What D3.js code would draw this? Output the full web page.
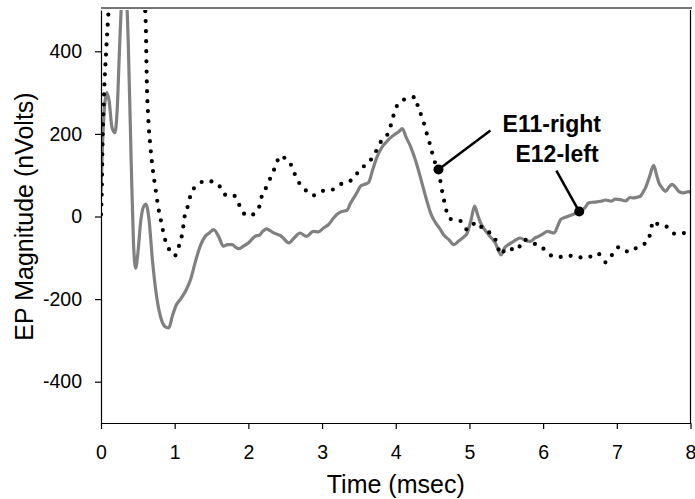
<!DOCTYPE html>
<html>
<head>
<meta charset="utf-8">
<script src="https://cdn.jsdelivr.net/npm/d3@7"></script>
<style>
  body { margin: 0; background: #fff; }
  svg { display: block; font-family: "Liberation Sans", Arial, sans-serif; }
</style>
</head>
<body>
<svg width="695" height="499"></svg>
<script>
// E12-left (solid grey) : time in msec, magnitude in nVolts
const leftTime = [0.00, 0.02, 0.05, 0.08, 0.11, 0.15, 0.19, 0.22, 0.25, 0.28, 0.31, 0.34, 0.37, 0.41, 0.44, 0.47, 0.50, 0.54, 0.58, 0.61,
  0.65, 0.70, 0.76, 0.82, 0.88, 0.92, 0.97, 1.02, 1.08, 1.15, 1.22, 1.28, 1.35, 1.41, 1.47, 1.53, 1.60, 1.66, 1.72, 1.78,
  1.83, 1.87, 1.93, 2.00, 2.05, 2.09, 2.15, 2.20, 2.25, 2.30, 2.36, 2.45, 2.55, 2.62, 2.70, 2.79, 2.88, 2.95, 3.02, 3.09,
  3.15, 3.20, 3.27, 3.34, 3.38, 3.43, 3.48, 3.52, 3.58, 3.63, 3.69, 3.75, 3.82, 3.88, 3.93, 3.98, 4.04, 4.09, 4.14, 4.20,
  4.27, 4.33, 4.38, 4.43, 4.48, 4.54, 4.60, 4.65, 4.72, 4.79, 4.85, 4.92, 4.97, 5.02, 5.07, 5.11, 5.15, 5.20, 5.26, 5.35,
  5.43, 5.48, 5.53, 5.60, 5.69, 5.76, 5.83, 5.89, 5.94, 6.00, 6.06, 6.15, 6.20, 6.24, 6.30, 6.35, 6.42, 6.50, 6.56, 6.62,
  6.70, 6.78, 6.85, 6.92, 6.98, 7.05, 7.12, 7.18, 7.23, 7.28, 7.32, 7.36, 7.39, 7.45, 7.50, 7.54, 7.57, 7.62, 7.66, 7.71,
  7.75, 7.80, 7.84, 7.91, 7.97, 8.00];
const leftValues = [60, 170, 270, 300, 280, 215, 203, 260, 400, 530, 620, 560, 420, 130, -60, -125, -90, -10, 25, 30,
  -5, -110, -200, -250, -268, -270, -240, -215, -200, -180, -150, -110, -70, -49, -40, -32, -50, -72, -68, -68,
  -75, -78, -72, -64, -55, -48, -45, -35, -30, -35, -41, -48, -64, -52, -40, -48, -36, -37, -28, -19,
  -5, 5, 12, 15, 30, 45, 60, 73, 78, 82, 115, 146, 170, 182, 191, 198, 205, 213, 192, 170,
  135, 98, 65, 33, 5, -15, -30, -44, -56, -68, -60, -50, -40, -10, 25, 5, -15, -30, -44, -64,
  -93, -75, -68, -60, -52, -58, -60, -52, -48, -42, -36, -40, -22, -7, -2, 1, 6, 13, 20, 33,
  35, 37, 40, 37, 42, 41, 38, 46, 45, 47, 49, 60, 70, 100, 124, 100, 82, 68, 61, 72,
  78, 70, 61, 57, 60, 59];

// E11-right (black dotted)
const rightTime = [0.00, 0.01, 0.02, 0.04, 0.07, 0.10, 0.13, 0.20, 0.30, 0.40, 0.50, 0.56, 0.60, 0.61, 0.62, 0.64, 0.67, 0.70, 0.74, 0.78,
  0.81, 0.87, 0.92, 0.96, 1.00, 1.03, 1.06, 1.10, 1.14, 1.19, 1.22, 1.27, 1.32, 1.39, 1.46, 1.53, 1.59, 1.68, 1.73, 1.79,
  1.88, 1.97, 2.03, 2.08, 2.15, 2.18, 2.25, 2.31, 2.37, 2.43, 2.49, 2.55, 2.61, 2.67, 2.77, 2.88, 3.01, 3.14, 3.28, 3.42,
  3.51, 3.63, 3.72, 3.79, 3.88, 3.93, 3.97, 4.02, 4.14, 4.27, 4.30, 4.36, 4.40, 4.44, 4.48, 4.51, 4.58, 4.62, 4.65, 4.68,
  4.74, 4.81, 4.88, 4.97, 5.03, 5.10, 5.19, 5.31, 5.38, 5.42, 5.51, 5.64, 5.74, 5.85, 5.98, 6.09, 6.22, 6.36, 6.49, 6.60,
  6.74, 6.85, 6.94, 7.03, 7.17, 7.28, 7.41, 7.46, 7.49, 7.56, 7.69, 7.79, 7.90, 8.00];
const rightValues = [5, 60, 170, 290, 400, 490, 580, 760, 860, 850, 720, 580, 500, 449, 340, 243, 170, 118, 67, 19,
  -7, -56, -78, -90, -95, -88, -70, -44, 5, 31, 56, 70, 78, 85, 86, 83, 78, 53, 52, 53,
  27, 3, 3, 7, 25, 48, 73, 98, 122, 147, 142, 135, 111, 87, 65, 51, 62, 65, 81, 90,
  114, 130, 154, 179, 196, 219, 245, 269, 285, 289, 266, 239, 215, 188, 166, 141, 114, 70, 44, 19,
  -6, -8, -11, -32, -22, -14, -32, -44, -68, -92, -76, -82, -56, -64, -74, -93, -98, -95, -99, -99,
  -89, -111, -92, -74, -86, -74, -61, -37, -11, -19, -26, -42, -40, -42];

const xTicks = [0, 1, 2, 3, 4, 5, 6, 7, 8];
const yTicks = [-400, -200, 0, 200, 400];

// callouts: dot on the curve, line end, label position (data units)
const calloutNames = ["E11-right", "E12-left"];
const calloutDot = [[4.58, 114], [6.49, 12]];
const calloutEnd = [[5.285, 208], [6.18, 111]];
const calloutText = [[5.45, 204], [5.625, 133]];

var svg = d3.select("svg");
var plotLeft = 101, plotRight = 690.5, plotTop = 10, plotBottom = 423;

var x = d3.scaleLinear().domain([0, 8]).range([plotLeft, plotRight]);
var y = d3.scaleLinear().domain([-500, 500]).range([plotBottom, plotTop]);

var leftSeries = leftTime.map(function (t, i) { return [t, leftValues[i]]; });
var rightSeries = rightTime.map(function (t, i) { return [t, rightValues[i]]; });

svg.append("defs").append("clipPath").attr("id", "plot")
  .append("rect")
  .attr("x", plotLeft).attr("y", plotTop)
  .attr("width", plotRight - plotLeft).attr("height", plotBottom - plotTop);

var line = d3.line()
  .x(function (d) { return x(d[0]); })
  .y(function (d) { return y(d[1]); })
  .curve(d3.curveMonotoneX);

var lines = svg.append("g").attr("clip-path", "url(#plot)");

lines.append("path")
  .datum(leftSeries)
  .attr("fill", "none")
  .attr("stroke", "#808080")
  .attr("stroke-width", 3.2)
  .attr("stroke-linejoin", "round")
  .attr("d", line);

lines.append("path")
  .datum(rightSeries)
  .attr("fill", "none")
  .attr("stroke", "#000")
  .attr("stroke-width", 4.2)
  .attr("stroke-linecap", "round")
  .attr("stroke-dasharray", "0 10")
  .attr("d", line);

// frame
svg.append("line")
  .attr("x1", plotLeft).attr("x2", plotRight + 1.5)
  .attr("y1", 8).attr("y2", 8)
  .attr("stroke", "#444").attr("stroke-width", 1.5);
svg.append("line")
  .attr("x1", plotRight).attr("x2", plotRight)
  .attr("y1", plotTop).attr("y2", plotBottom)
  .attr("stroke", "#000").attr("stroke-width", 1.2);

// plain hyphen for negative labels, as in the original
var plainFormat = function (d) { return String(d); };

var xAxis = svg.append("g")
  .attr("transform", "translate(0," + plotBottom + ")")
  .call(d3.axisBottom(x).tickValues(xTicks).tickFormat(plainFormat)
    .tickSize(6).tickSizeOuter(0).tickPadding(16.5));
var yAxis = svg.append("g")
  .attr("transform", "translate(" + plotLeft + ",0)")
  .call(d3.axisLeft(y).tickValues(yTicks).tickFormat(plainFormat)
    .tickSize(6).tickSizeOuter(0).tickPadding(13));

[xAxis, yAxis].forEach(function (a) {
  a.attr("font-size", 19.5).attr("font-family", "'Liberation Sans', Arial, sans-serif");
  a.selectAll("path, line").attr("stroke", "#000").attr("stroke-width", 1.2);
  a.selectAll("text").attr("fill", "#000");
});

svg.append("text")
  .attr("x", (plotLeft + plotRight) / 2)
  .attr("y", 493)
  .attr("text-anchor", "middle")
  .style("font-size", "25px")
  .text("Time (msec)");

svg.append("text")
  .attr("transform", "translate(33," + (plotTop + plotBottom) / 2 + ") rotate(-90)")
  .attr("text-anchor", "middle")
  .style("font-size", "25px")
  .text("EP Magnitude (nVolts)");

// callouts
calloutNames.forEach(function (name, i) {
  svg.append("line")
    .attr("x1", x(calloutDot[i][0])).attr("y1", y(calloutDot[i][1]))
    .attr("x2", x(calloutEnd[i][0])).attr("y2", y(calloutEnd[i][1]))
    .attr("stroke", "#000").attr("stroke-width", 2.5);
  svg.append("circle")
    .attr("cx", x(calloutDot[i][0])).attr("cy", y(calloutDot[i][1]))
    .attr("r", 5).attr("fill", "#000");
  svg.append("text")
    .attr("x", x(calloutText[i][0])).attr("y", y(calloutText[i][1]))
    .style("font-size", "23px")
    .style("font-weight", "bold")
    .text(name);
});
</script>
</body>
</html>
